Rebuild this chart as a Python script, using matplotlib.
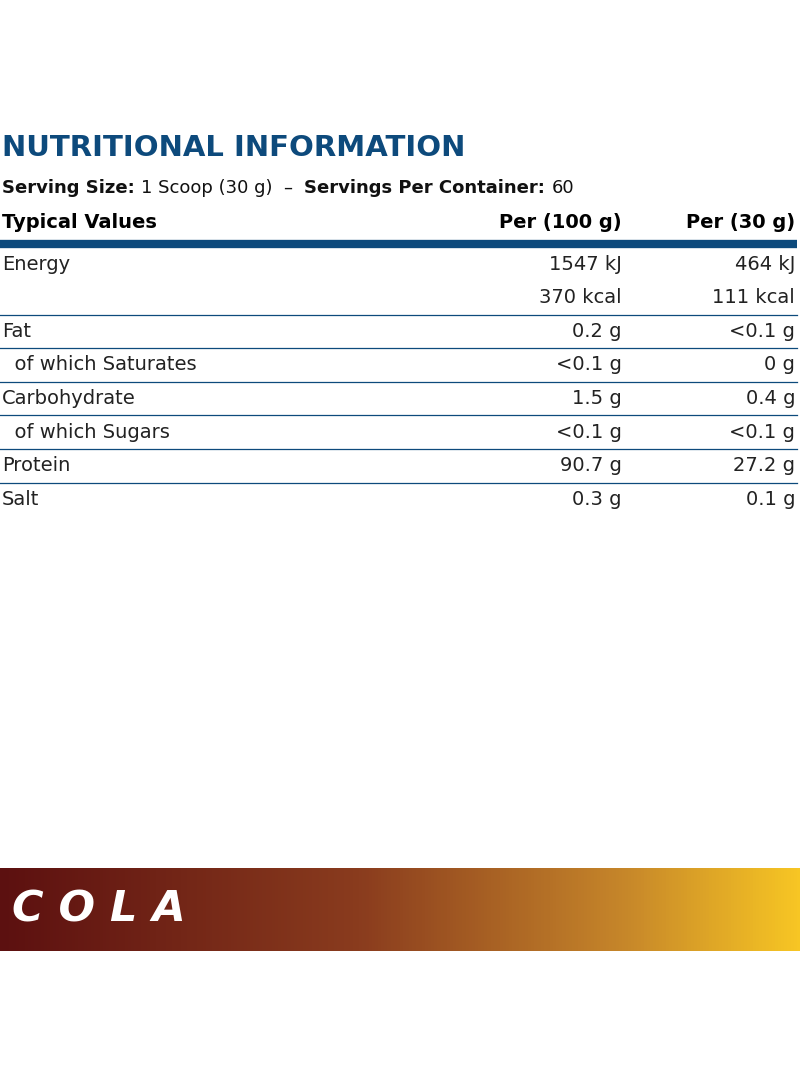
import matplotlib.pyplot as plt
import numpy as np
from matplotlib.colors import LinearSegmentedColormap

# table data
nutrients = ['Energy', '', 'Fat', '  of which Saturates', 'Carbohydrate',
             '  of which Sugars', 'Protein', 'Salt']
per_100g = ['1547 kJ', '370 kcal', '0.2 g', '<0.1 g', '1.5 g', '<0.1 g', '90.7 g', '0.3 g']
per_30g = ['464 kJ', '111 kcal', '<0.1 g', '0 g', '0.4 g', '<0.1 g', '27.2 g', '0.1 g']
headers = ['Typical Values', 'Per (100 g)', 'Per (30 g)']
serving_parts = [('Serving Size: ', 'bold'), ('1 Scoop (30 g)  \u2013  ', 'normal'),
                 ('Servings Per Container: ', 'bold'), ('60', 'normal')]

blue = '#0d4a7c'
W, H = 800, 1091
fig = plt.figure(figsize=(8, 10.91), dpi=100)
ax = fig.add_axes([0, 0, 1, 1])
ax.set_xlim(0, W)
ax.set_ylim(H, 0)
ax.axis('off')

ax.text(2, 148, 'NUTRITIONAL INFORMATION', fontsize=21, fontweight='bold',
        color=blue, va='center')

# serving line: chain the pieces one after another
renderer = fig.canvas.get_renderer()
x = 2
for s, w in serving_parts:
    t = ax.text(x, 188, s, fontsize=13, fontweight=w, va='center', color='#111111')
    bb = t.get_window_extent(renderer=renderer)
    x += bb.width

ax.text(2, 223, headers[0], fontsize=14, fontweight='bold', va='center')
ax.text(622, 223, headers[1], fontsize=14, fontweight='bold', va='center', ha='right')
ax.text(795, 223, headers[2], fontsize=14, fontweight='bold', va='center', ha='right')
ax.plot([0, 797], [244, 244], color=blue, lw=6, solid_capstyle='butt')

row_h = 33.6
for i, (n, a, b) in enumerate(zip(nutrients, per_100g, per_30g)):
    y = 264 + i * row_h
    ax.text(2, y, n, fontsize=14, va='center', color='#222222')
    ax.text(622, y, a, fontsize=14, va='center', ha='right', color='#222222')
    ax.text(795, y, b, fontsize=14, va='center', ha='right', color='#222222')
    if 1 <= i < len(nutrients) - 1:
        ax.plot([0, 797], [y + 17, y + 17], color=blue, lw=0.9)

# COLA banner with gradient
cmap = LinearSegmentedColormap.from_list('cola', [
    (0, '#5c1010'), (0.45, '#8a3c1e'), (0.78, '#c6862a'), (1, '#f7c624')])
grad = np.linspace(0, 1, 256).reshape(1, -1)
ax.imshow(grad, cmap=cmap, extent=[0, W, 951, 868], aspect='auto', zorder=1)
ax.text(12, 910, 'C O L A', fontsize=31, fontweight='bold', fontstyle='italic',
        color='white', va='center', zorder=2)
ax.set_xlim(0, W)
ax.set_ylim(H, 0)

fig.savefig('out.png', dpi=100)
